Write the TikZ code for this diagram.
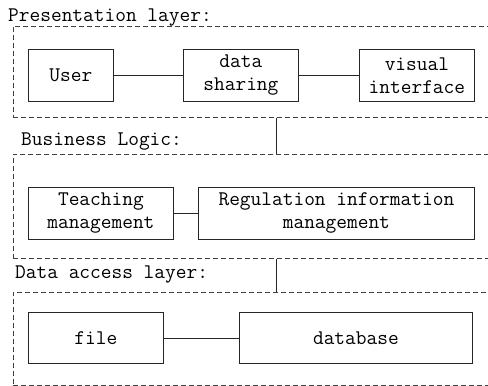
\documentclass[tikz,border=0pt]{standalone}

\tikzset{
  layer/.style={draw=black!75, dash pattern=on 5pt off 3pt, line width=0.7pt,
    inner sep=0pt, anchor=north west, minimum width=490pt},
  part/.style={draw=black!85, line width=0.8pt, inner sep=0pt, align=center,
    anchor=north west, minimum height=52pt},
  title/.style={anchor=base west, inner sep=0pt},
  link/.style={draw=black!85, line width=0.8pt}
}

\begin{document}
\begin{tikzpicture}[x=1pt, y=-1pt, font=\ttfamily\fontsize{20.8}{23}\selectfont]

\useasboundingbox (0,0) rectangle (488,386);

% presentation layer
\node[title] (presTitle) at (8,21) {Presentation layer:};
\node[layer, minimum height=91pt] (presLayer) at (13,26) {};
\node[part, minimum width=85pt] (user) at (28,49) {User};
\node[part, minimum width=115pt] (dataShr) at (183,49) {data\\sharing};
\node[part, minimum width=115pt] (visual) at (359,49) {visual\\interface};

\draw[link] (user.east) -- (dataShr.west);
\draw[link] (dataShr.east) -- (visual.west);

% business logic
\node[title] (busTitle) at (21,145) {Business Logic:};
\node[layer, minimum height=104pt] (busLayer) at (13,154) {};
\node[part, minimum width=145pt] (teach) at (28,187) {Teaching\\management};
\node[part, minimum width=276pt] (regul) at (198,187) {Regulation information\\management};

\draw[link] (teach.east) -- (regul.west);

% data access layer
\node[title] (dataTitle) at (15,278) {Data access layer:};
\node[layer, minimum height=93pt] (dataLayer) at (13,292) {};
\node[part, minimum width=135pt, minimum height=51pt] (file) at (28,312) {file};
\node[part, minimum width=233pt, minimum height=51pt] (dbase) at (239,312) {database};

\draw[link] (file.east) -- (dbase.west);

% links between the layers
\coordinate (tie) at (276,0);
\draw[link] (presLayer.south -| tie) -- (busLayer.north -| tie);
\draw[link] (busLayer.south -| tie) -- (dataLayer.north -| tie);

\end{tikzpicture}
\end{document}
